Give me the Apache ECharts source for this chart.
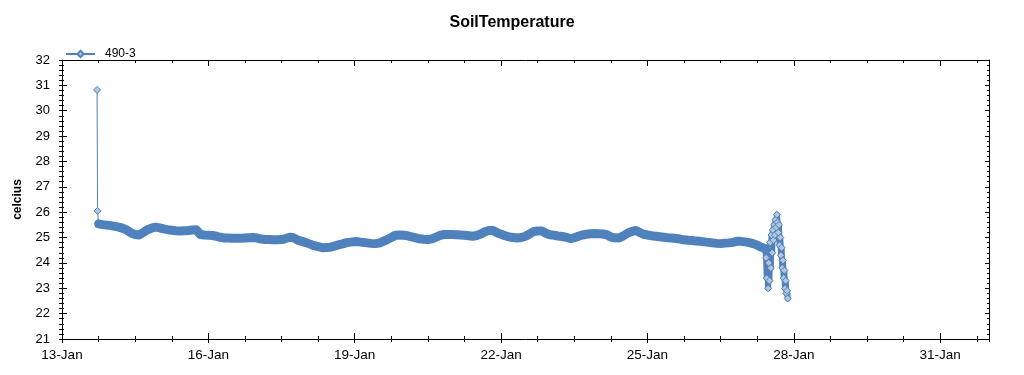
<!DOCTYPE html>
<html><head><meta charset="utf-8">
<script src="https://cdn.jsdelivr.net/npm/echarts@6.0.0/dist/echarts.min.js"></script>
<style>html,body{margin:0;padding:0;background:#fff}#c{width:1024px;height:375px}</style>
</head><body><div id="c"></div>
<script>
const chartTitle = 'SoilTemperature';
const seriesName = '490-3';
const yAxisName = 'celcius';
const firstDay = 13;          // day of month at x = 0
const monthLabel = 'Jan';
const xRangeDays = [0, 19];   // 13-Jan .. 1-Feb
const yRange = [21, 32];

// readings: hours after 13-Jan 00:00
const headHours = [17.25, 17.5];
const headValues = [30.82, 26.05];

const mainStartHour = 18;     // 13-Jan 18:00, every 2 hours
const mainStepHours = 2;
const mainValues = [
  25.54,25.51,25.49,25.47,25.44,25.41,
  25.36,25.29,25.18,25.12,25.10,25.20,25.31,25.37,25.41,25.38,25.34,25.31,
  25.29,25.27,25.26,25.27,25.28,25.30,25.31,25.12,25.10,25.09,25.08,25.05,
  25.01,24.98,24.98,24.97,24.97,24.97,24.98,24.99,25.00,24.98,24.94,24.92,
  24.92,24.91,24.91,24.92,24.96,25.01,24.99,24.90,24.85,24.80,24.74,24.68,
  24.64,24.60,24.61,24.62,24.66,24.71,24.75,24.80,24.82,24.84,24.83,24.81,
  24.79,24.77,24.76,24.78,24.85,24.92,25.00,25.09,25.10,25.09,25.07,25.03,
  24.99,24.95,24.93,24.92,24.95,25.02,25.09,25.12,25.12,25.12,25.11,25.10,
  25.09,25.07,25.05,25.08,25.14,25.23,25.28,25.28,25.19,25.13,25.07,25.02,
  25.00,24.98,25.00,25.05,25.14,25.24,25.26,25.26,25.17,25.11,25.09,25.06,
  25.04,25.01,24.96,24.99,25.05,25.10,25.13,25.15,25.16,25.15,25.14,25.11,
  25.02,24.99,24.98,25.06,25.16,25.23,25.28,25.21,25.13,25.10,25.07,25.05,
  25.03,25.01,24.99,24.98,24.96,24.94,24.91,24.89,24.88,24.86,24.85,24.83,
  24.81,24.79,24.77,24.76,24.78,24.79,24.81,24.85,24.85,24.83,24.80,24.76,
  24.70,24.62,24.55
];

const tailStartHour = 346 + 1/3;  // 27-Jan 10:20, every 20 minutes
const tailStepHours = 1/3;
const tailValues = [
  24.2,23.4,24.6,23.0,24.0,23.3,24.8,23.8,25.1,24.4,25.3,24.9,25.5,25.1,25.7,25.4,
  25.9,25.6,25.2,25.5,24.7,25.0,24.3,24.6,23.8,24.1,23.4,23.7,23.0,23.3,22.8,22.9,22.6
];

const headPts = headHours.map((h, i) => [h / 24, headValues[i]]);
const mainPts = mainValues.map((v, i) => [(mainStartHour + i * mainStepHours) / 24, v]);
const tailPts = tailValues.map((v, i) => [(tailStartHour + i * tailStepHours) / 24, v]);
const points = headPts.concat(mainPts, tailPts);

const FONT = 'Liberation Sans, Arial, sans-serif';
const black = '#000';
const lineBlue = '#4f81bd';
const markerFill = '#b4c6dc';

function xAx(opt) {
  return Object.assign({
    type: 'value', min: xRangeDays[0], max: xRangeDays[1], gridIndex: 0,
    splitLine: { show: false },
    axisLine: { show: false, lineStyle: { color: black, width: 1 } },
    axisLabel: { show: false },
    axisTick: { show: true, lineStyle: { color: black } }
  }, opt);
}
function yAx(opt) {
  return Object.assign({
    type: 'value', min: yRange[0], max: yRange[1], interval: 1, gridIndex: 0,
    splitLine: { show: false },
    axisLine: { show: false, lineStyle: { color: black, width: 1 } },
    axisLabel: { show: false },
    axisTick: { show: true, lineStyle: { color: black } }
  }, opt);
}

const chart = echarts.init(document.getElementById('c'), null, { renderer: 'canvas' });
chart.setOption({
  animation: false,
  backgroundColor: '#fff',
  title: {
    text: chartTitle, left: 'center', top: 10,
    textStyle: { fontFamily: FONT, fontSize: 16, fontWeight: 'bold', color: black }
  },
  legend: {
    data: [seriesName], left: 60, top: 43, itemWidth: 29, itemHeight: 8, itemGap: 10,
    textStyle: { fontFamily: FONT, fontSize: 12, color: black, padding: [0, 0, 0, 5] }
  },
  grid: { left: 62, right: 35, top: 60, bottom: 36, containLabel: false },
  xAxis: [
    xAx({ position: 'bottom', interval: 3,
      axisLine: { show: true, onZero: false, lineStyle: { color: black, width: 1 } },
      axisTick: { show: true, inside: false, length: 4, lineStyle: { color: black } },
      axisLabel: { show: true, margin: 9, showMaxLabel: false,
        fontFamily: FONT, fontSize: 13.5, color: black,
        formatter: v => (v % 3 === 0 ? (firstDay + v) + '-' + monthLabel : '') } }),
    xAx({ position: 'bottom', interval: 3, axisTick: { show: true, inside: true, length: 6, lineStyle: { color: black } } }),
    xAx({ position: 'bottom', interval: 0.75, axisTick: { show: true, inside: true, length: 3, lineStyle: { color: black } } }),
    xAx({ position: 'bottom', interval: 0.75, axisTick: { show: true, inside: false, length: 3, lineStyle: { color: black } } }),
    xAx({ position: 'top', interval: 3,
      axisLine: { show: true, onZero: false, lineStyle: { color: black, width: 1 } },
      axisTick: { show: true, inside: true, length: 6, lineStyle: { color: black } } }),
    xAx({ position: 'top', interval: 0.75, axisTick: { show: true, inside: true, length: 3, lineStyle: { color: black } } })
  ],
  yAxis: [
    yAx({ position: 'left',
      name: yAxisName, nameLocation: 'middle', nameGap: 38, nameRotate: 90,
      nameTextStyle: { fontFamily: FONT, fontSize: 12, fontWeight: 'bold', color: black },
      axisLine: { show: true, onZero: false, lineStyle: { color: black, width: 1 } },
      axisTick: { show: true, inside: false, length: 3, lineStyle: { color: black } },
      minorTick: { show: true, splitNumber: 5, length: 3, lineStyle: { color: black } },
      axisLabel: { show: true, margin: 12, fontFamily: FONT, fontSize: 13, color: black } }),
    yAx({ position: 'left',
      axisTick: { show: true, inside: true, length: 5, lineStyle: { color: black } },
      minorTick: { show: true, splitNumber: 5, length: 2, lineStyle: { color: black } } }),
    yAx({ position: 'right',
      axisLine: { show: true, onZero: false, lineStyle: { color: black, width: 1 } },
      axisTick: { show: true, inside: true, length: 4, lineStyle: { color: black } },
      minorTick: { show: true, splitNumber: 5, length: 2, lineStyle: { color: black } } })
  ],
  series: [{
    name: seriesName, type: 'line', xAxisIndex: 0, yAxisIndex: 0, z: 2,
    data: points, symbol: 'diamond', symbolSize: 7, showSymbol: true,
    lineStyle: { color: lineBlue, width: 1 },
    itemStyle: { color: markerFill, borderColor: lineBlue, borderWidth: 1 },
    emphasis: { disabled: true }
  }, {
    // dense readings merge into a solid ribbon in the original
    name: seriesName + ' band', type: 'line', xAxisIndex: 0, yAxisIndex: 0, z: 3,
    data: mainPts, showSymbol: false, symbol: 'none',
    lineStyle: { color: lineBlue, width: 9, cap: 'round', join: 'round' },
    emphasis: { disabled: true }, silent: true
  }, {
    // thick trace under the markers in the final oscillation
    name: seriesName + ' tail', type: 'line', xAxisIndex: 0, yAxisIndex: 0, z: 1,
    data: mainPts.slice(-1).concat(tailPts), showSymbol: false, symbol: 'none',
    lineStyle: { color: lineBlue, width: 6, cap: 'round', join: 'round' },
    emphasis: { disabled: true }, silent: true
  }]
});
</script></body></html>
